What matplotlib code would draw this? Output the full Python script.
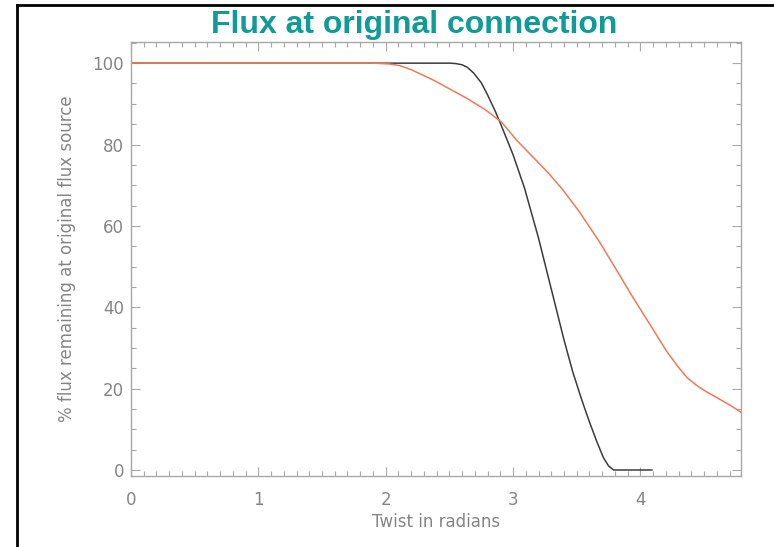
import matplotlib
matplotlib.use("Agg")
import matplotlib.pyplot as plt
from matplotlib.lines import Line2D
from matplotlib.ticker import MultipleLocator

# Curves
twist_black = [0, 0.5, 1.0, 1.5, 2.0, 2.3, 2.5, 2.55, 2.6, 2.64, 2.69, 2.75, 2.80, 2.86, 2.91,
               3.00, 3.09, 3.2, 3.3, 3.4, 3.47, 3.54, 3.6, 3.66, 3.71, 3.75, 3.79, 3.9, 4.09]
flux_black = [100, 100, 100, 100, 100, 100, 100, 99.9, 99.6, 99, 97.6, 95.2, 92.2, 88.2, 84.5,
              77.5, 69.3, 57, 44.5, 32, 24, 17.2, 11.8, 6.8, 3.0, 1.0, 0, 0, 0]

twist_orange = [0, 1, 1.9, 2.03, 2.11, 2.2, 2.37, 2.5, 2.64, 2.78, 2.91, 3.03, 3.16, 3.28,
                3.39, 3.52, 3.68, 3.8, 3.94, 4.08, 4.21, 4.3, 4.37, 4.45, 4.52, 4.6, 4.7, 4.79]
flux_orange = [100, 100, 100, 99.8, 99.4, 98.4, 95.9, 93.7, 91.3, 88.6, 85.5, 81.0, 76.8, 72.9,
               68.9, 63.5, 56, 49.8, 42.5, 35.5, 29.0, 25.2, 22.6, 20.6, 19.2, 17.8, 16.0, 14.2]

x_ticks = [0, 1, 2, 3, 4]
y_ticks = [0, 20, 40, 60, 80, 100]

axis_grey = "#a8a8a8"
label_grey = "#858585"

fig = plt.figure(figsize=(7.74, 5.47), dpi=100)
ax = fig.add_axes([131/774, 71/547, 610/774, 434/547])

ax.plot(twist_black, flux_black, color="#3c3c3c", lw=1.1)
ax.plot(twist_orange, flux_orange, color="#f07a55", lw=1.1)

ax.set_xlim(0, 4.79)
ax.set_ylim(-1.475, 105.2)
ax.set_xticks(x_ticks)
ax.set_yticks(y_ticks)
ax.xaxis.set_minor_locator(MultipleLocator(0.1))
ax.yaxis.set_minor_locator(MultipleLocator(5))

for s in ax.spines.values():
    s.set_color(axis_grey)
    s.set_linewidth(1.0)
ax.tick_params(which="both", direction="in", top=True, right=True, color=axis_grey, width=0.8)
ax.tick_params(which="major", length=6.5, labelsize=12, labelcolor=label_grey)
ax.tick_params(which="minor", length=3.6)
ax.tick_params(axis="x", pad=11)
ax.tick_params(axis="y", pad=5)

ax.set_xlabel("Twist in radians", fontsize=12, color=label_grey)
ax.set_ylabel("% flux remaining at original flux source", fontsize=12, color=label_grey)
ax.xaxis.set_label_coords(0.5, -0.085)
ax.yaxis.set_label_coords(-0.09, 0.5)

fig.text(414/774, 1 - 33/547, "Flux at original connection", ha="center", va="baseline",
         fontsize=23, fontweight="bold", color="#0f9b96", family="Liberation Sans")

# partial black frame (left and top edges)
fig.add_artist(Line2D([17/774, 17/774], [0, 1 - 5/547], transform=fig.transFigure,
                      color="black", lw=2))
fig.add_artist(Line2D([17/774, 1], [1 - 5/547, 1 - 5/547], transform=fig.transFigure,
                      color="black", lw=2))

fig.savefig("out.png", dpi=100)
